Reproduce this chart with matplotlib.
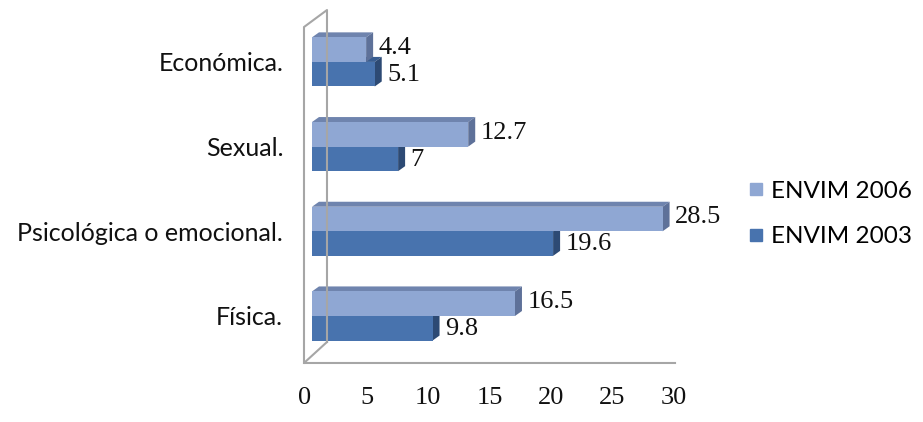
import matplotlib
matplotlib.use("Agg")
import matplotlib.pyplot as plt
from matplotlib.patches import Polygon
from matplotlib.lines import Line2D
import numpy as np

categories = ["Física.", "Psicológica o emocional.", "Sexual.", "Económica."]
envim_2006 = [16.5, 28.5, 12.7, 4.4]
envim_2003 = [9.8, 19.6, 7, 5.1]
series_names = ["ENVIM 2006", "ENVIM 2003"]
xticks = [0, 5, 10, 15, 20, 25, 30]

W, H = 923, 422
fig = plt.figure(figsize=(W / 100, H / 100), dpi=100)
fig.patch.set_facecolor("white")

# axes box in pixels: left 304, right 690, top 10, bottom 363
ax = fig.add_axes([304 / W, 1 - 363 / H, (690 - 304) / W, (363 - 10) / H])
ax.set_xlim(-0.65, 30.73)
ax.set_ylim(-0.555, 3.613)
for s in ax.spines.values():
    s.set_visible(False)

sx = 12.3   # px per unit in x
sy = 84.7   # px per unit in y
def px(dxp, dyp):
    return dxp / sx, dyp / sy

light = "#8FA7D3"
light_top = "#6F84AE"
light_side = "#5E7199"
dark = "#4873AE"
dark_top = "#385D91"
dark_side = "#2D4A74"

h = 0.29
ddx, ddy = px(7, 5)
y = np.arange(len(categories))

def bar3d(v, y0, front, top, side):
    x0 = 0
    ax.add_patch(Polygon([(x0, y0 + h), (x0 + ddx, y0 + h + ddy), (v + ddx, y0 + h + ddy), (v, y0 + h)],
                         closed=True, fc=top, ec="none", clip_on=False))
    ax.add_patch(Polygon([(v, y0), (v, y0 + h), (v + ddx, y0 + h + ddy), (v + ddx, y0 + ddy)],
                         closed=True, fc=side, ec="none", clip_on=False))
    ax.barh(y0, v, height=h, left=x0, align="edge", color=front, clip_on=False)

# walls / floor
gray = "#A6A6A6"
fx0, _ = px(-8, 0)
bx0, _ = px(15, 0)
_, ytop_f = px(0, 316 - 27)
_, ytop_b = px(0, 316 - 10)
_, ybot_f = px(0, 316 - 363)
_, ybot_b = px(0, 316 - 342)
xr, _ = px(675 - 312, 0)
ax.plot([fx0, fx0, bx0, bx0], [ybot_f, ytop_f, ytop_b, ybot_b], color=gray, lw=1.5, clip_on=False)
ax.plot([bx0, fx0, xr], [ybot_b, ybot_f, ybot_f], color=gray, lw=1.5, clip_on=False)

num_font = dict(family="Liberation Serif", fontsize=19, color="#111111")
for i in range(len(categories)):
    bar3d(envim_2003[i], y[i] - h, dark, dark_top, dark_side)
    bar3d(envim_2006[i], y[i], light, light_top, light_side)
    ax.annotate(f"{envim_2006[i]:g}", (envim_2006[i], y[i] + h / 2 + 0.02), xytext=(9, 0),
                textcoords="offset points", va="center", ha="left", **num_font)
    ax.annotate(f"{envim_2003[i]:g}", (envim_2003[i], y[i] - h / 2 - 0.01), xytext=(9, 0),
                textcoords="offset points", va="center", ha="left", **num_font)

ax.set_xticks(np.array(xticks) - 0.57)
ax.set_xticklabels([str(t) for t in xticks], family="Liberation Serif", fontsize=19, color="#111111")
ax.set_yticks(y)
ax.set_yticklabels(categories, family="Lato", fontsize=18, color="#111111")
ax.tick_params(axis="x", length=0, pad=17)
ax.tick_params(axis="y", length=0, pad=15)

handles = [Line2D([], [], marker="s", ls="none", color=c, markersize=8) for c in (light, dark)]
fig.legend(handles, series_names, loc="center left", bbox_to_anchor=(750 / W, 1 - 214 / H),
           frameon=False, prop={"family": "Lato", "size": 17.5}, labelspacing=1.0,
           handlelength=0.5, handletextpad=0.35, borderpad=0, borderaxespad=0)

fig.savefig("out.png", dpi=100)
